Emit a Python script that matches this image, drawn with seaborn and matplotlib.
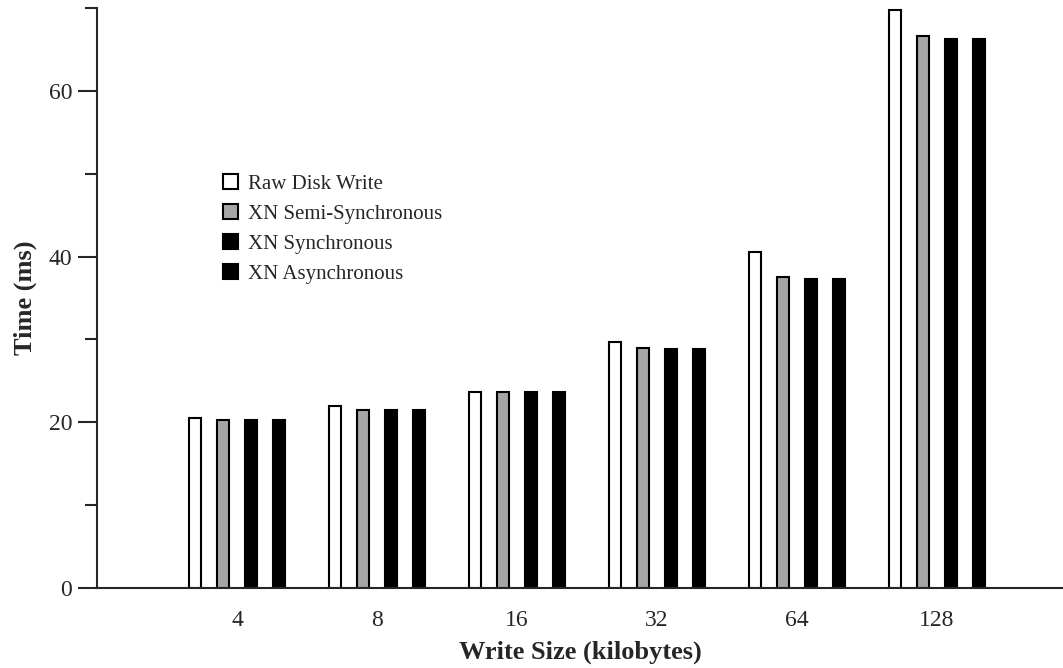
import pandas as pd
import seaborn as sns
import matplotlib.pyplot as plt
from matplotlib.ticker import MultipleLocator

# values
sizes = ["4", "8", "16", "32", "64", "128"]
series = ["Raw Disk Write", "XN Semi-Synchronous", "XN Synchronous", "XN Asynchronous"]
raw_disk = [20.5, 22.0, 23.6, 29.7, 40.5, 69.8]
semi_sync = [20.3, 21.5, 23.6, 29.0, 37.5, 66.6]
sync = [20.3, 21.5, 23.6, 28.8, 37.3, 66.2]
async_ = [20.3, 21.5, 23.6, 28.8, 37.3, 66.2]

rows = []
for name, vals in zip(series, [raw_disk, semi_sync, sync, async_]):
    for s, v in zip(sizes, vals):
        rows.append({"Write Size": s, "Series": name, "Time": v})
df = pd.DataFrame(rows)

sns.set_style("ticks")
plt.rcParams['font.family'] = ['Liberation Serif', 'DejaVu Serif']

fig = plt.figure(figsize=(10.63, 6.68), dpi=100)
ax = fig.add_axes([0.0913, 0.1198, 0.9087, 0.8682])

palette = ["white", "#a6a6a6", "black", "black"]
sns.barplot(
    data=df, x="Write Size", y="Time", hue="Series",
    order=sizes, hue_order=series, palette=palette,
    width=0.8, gap=0.55, edgecolor="black", linewidth=1.5,
    errorbar=None, ax=ax,
)

handles, labels = ax.get_legend_handles_labels()
ax.legend(handles, labels, loc="upper left", bbox_to_anchor=(0.2, 0.755),
          bbox_transform=fig.transFigure, frameon=False, fontsize=15,
          handlelength=0.7, handleheight=0.7, handletextpad=0.5,
          labelspacing=0.5, borderpad=0)

ax.set_xlim(-1.0, 5.9)
ax.set_ylim(0, 70)
ax.yaxis.set_major_locator(MultipleLocator(20))
ax.yaxis.set_minor_locator(MultipleLocator(10))
ax.tick_params(axis="y", which="major", length=14, width=1.5, labelsize=17, pad=4)
ax.tick_params(axis="y", which="minor", length=9, width=1.5)
ax.tick_params(axis="x", length=0, labelsize=17, pad=16)

sns.despine(ax=ax)
for sp in ["left", "bottom"]:
    ax.spines[sp].set_linewidth(1.5)

ax.set_xlabel("Write Size (kilobytes)", fontsize=19, fontweight="bold", labelpad=7)
ax.set_ylabel("Time (ms)", fontsize=19, fontweight="bold", labelpad=8)

fig.savefig("out.png", dpi=100)
